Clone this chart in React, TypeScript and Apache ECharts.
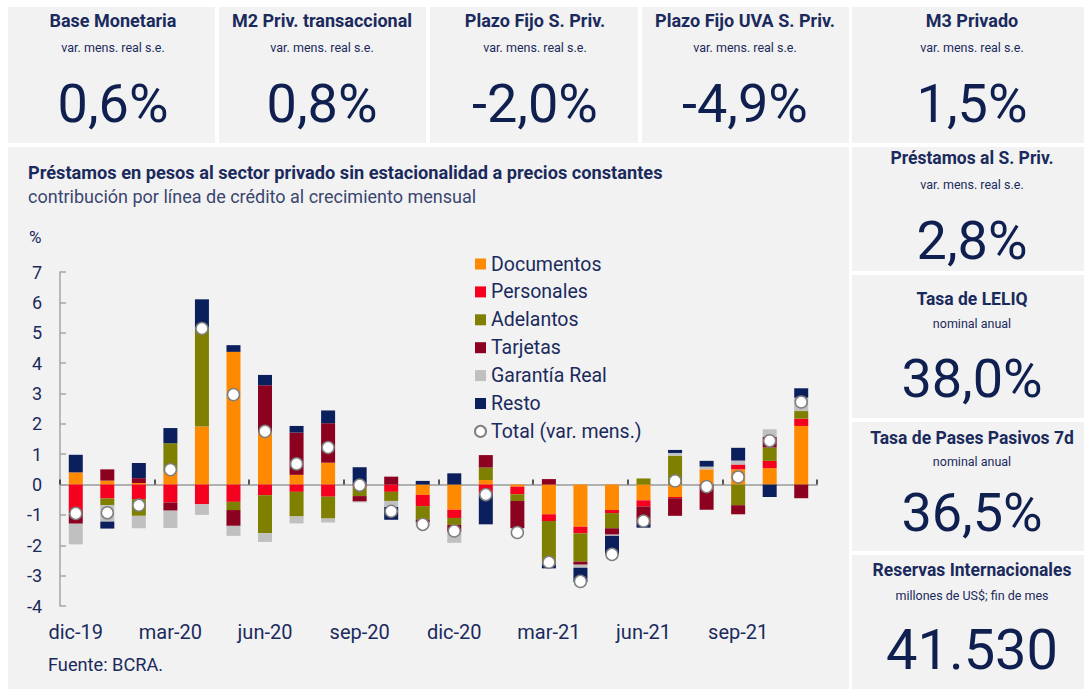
import React, { useEffect, useRef } from "react";
import * as echarts from "echarts";

const months = [
  "dic-19", "ene-20", "feb-20", "mar-20", "abr-20", "may-20", "jun-20", "jul-20",
  "ago-20", "sep-20", "oct-20", "nov-20", "dic-20", "ene-21", "feb-21", "mar-21",
  "abr-21", "may-21", "jun-21", "jul-21", "ago-21", "sep-21", "oct-21", "nov-21",
];

const documentos = [0.40, 0.13, 0.05, 0.42, 1.91, 4.37, 1.73, 0.32, 0.72, 0, 0, -0.34, -0.83, 0.15, -0.07, -0.98, -1.39, -0.84, -0.52, -0.41, 0.50, 0.50, 0.54, 1.93];
const personales = [-0.87, -0.46, -0.48, -0.59, -0.65, -0.57, -0.35, -0.24, -0.40, -0.08, -0.24, -0.37, -0.27, -0.29, -0.25, -0.22, -0.22, -0.10, -0.20, -0.04, 0, 0.16, 0.24, 0.24];
const adelantos = [0, -0.22, -0.55, 0.94, 3.26, -0.27, -1.25, -0.81, -0.72, -0.30, -0.30, -0.44, -0.23, 0.41, -0.22, -1.43, -0.93, -0.50, 0.20, 0.95, 0, -0.68, 0.44, 0.25];
const tarjetas = [-0.42, 0.37, 0.16, -0.27, 0, -0.52, 1.54, 1.39, 1.30, -0.18, 0.26, -0.10, -0.24, 0.41, -0.90, 0.18, -0.10, -0.21, -0.57, -0.58, -0.83, -0.30, 0.35, -0.45];
const garantiaReal = [-0.68, -0.54, -0.41, -0.57, -0.35, -0.33, -0.29, -0.23, -0.13, -0.03, -0.20, -0.12, -0.35, 0, 0, 0, -0.10, -0.04, 0, 0.09, 0.09, 0.13, 0.25, 0.44];
const resto = [0.58, -0.23, 0.50, 0.50, 0.93, 0.22, 0.34, 0.22, 0.42, 0.57, -0.42, 0.12, 0.37, -1.02, 0, -0.13, -0.47, -0.61, -0.13, 0.10, 0.19, 0.42, -0.41, 0.31];
const total = [-0.95, -0.93, -0.68, 0.49, 5.14, 2.96, 1.75, 0.68, 1.22, -0.02, -0.88, -1.31, -1.53, -0.33, -1.58, -2.56, -3.19, -2.30, -1.20, 0.12, -0.07, 0.25, 1.44, 2.72];

const seriesNames = ["Documentos", "Personales", "Adelantos", "Tarjetas", "Garantía Real", "Resto"];
const seriesColors = ["#ff8a00", "#f5001e", "#7f7f00", "#8c0020", "#c0c0c0", "#0b1f5c"];
const totalName = "Total (var. mens.)";

const topCards = [
  { title: "Base Monetaria", sub: "var. mens. real s.e.", value: "0,6%" },
  { title: "M2 Priv. transaccional", sub: "var. mens. real s.e.", value: "0,8%" },
  { title: "Plazo Fijo S. Priv.", sub: "var. mens. real s.e.", value: "-2,0%" },
  { title: "Plazo Fijo UVA S. Priv.", sub: "var. mens. real s.e.", value: "-4,9%" },
  { title: "M3 Privado", sub: "var. mens. real s.e.", value: "1,5%" },
];
const sideCards = [
  { title: "Préstamos al S. Priv.", sub: "var. mens. real s.e.", value: "2,8%" },
  { title: "Tasa de LELIQ", sub: "nominal anual", value: "38,0%" },
  { title: "Tasa de Pases Pasivos 7d", sub: "nominal anual", value: "36,5%" },
  { title: "Reservas Internacionales", sub: "millones de US$; fin de mes", value: "41.530" },
];

const NAVY = "#1b2a5c";
const DARK = "#0f1f4f";
const PANEL = "#f2f2f2";
const FONT = "Roboto";

function txt(text: string, x: number, y: number, size: number, weight: string, color: string, align = "center") {
  return {
    type: "text",
    x,
    y,
    z: 20,
    style: {
      text,
      fill: color,
      fontSize: size,
      fontWeight: weight,
      fontFamily: FONT,
      align,
      verticalAlign: "middle",
      textAlign: align,
      textVerticalAlign: "middle",
    },
  };
}

function rect(x: number, y: number, w: number, h: number) {
  return { type: "rect", shape: { x, y, width: w, height: h }, style: { fill: PANEL }, z: -10, silent: true };
}

export default function App() {
  const ref = useRef<HTMLDivElement>(null);
  useEffect(() => {
    if (!ref.current) return;
    const chart = echarts.init(ref.current, null, { renderer: "svg" });

    const topX = [[8, 207], [219, 207], [430, 208], [642, 207], [852, 232]];
    const topCx = [113, 322, 535, 745, 972];
    const sideY = [[147, 124], [275, 143], [422, 129], [555, 134]];
    const sideTy = [[158, 184, 240], [299, 323, 378], [438, 461, 512], [570, 595, 650]];

    const graphics: any[] = [];
    topX.forEach(([x, w]) => graphics.push(rect(x, 7, w, 136)));
    graphics.push(rect(8, 147, 841, 542));
    sideY.forEach(([y, h]) => graphics.push(rect(852, y, 232, h)));
    topCards.forEach((c, i) => {
      graphics.push(txt(c.title, topCx[i], 20, 18, "bold", NAVY));
      graphics.push(txt(c.sub, topCx[i], 47, 12.5, "normal", NAVY));
      graphics.push(txt(c.value, topCx[i], 103, 54, "normal", DARK));
    });
    sideCards.forEach((c, i) => {
      const [ty, sy, vy] = sideTy[i];
      graphics.push(txt(c.title, 972, ty, 17.5, "bold", NAVY));
      graphics.push(txt(c.sub, 972, sy, 12.5, "normal", NAVY));
      graphics.push(txt(c.value, 972, vy, i === 3 ? 56 : 54, "normal", DARK));
    });
    graphics.push(txt("Préstamos en pesos al sector privado sin estacionalidad a precios constantes", 28, 172, 18.2, "bold", NAVY, "left"));
    graphics.push(txt("contribución por línea de crédito al crecimiento mensual", 28, 196, 18, "normal", "#3a4670", "left"));
    graphics.push(txt("%", 29, 237, 17, "normal", NAVY, "left"));
    graphics.push(txt("Fuente: BCRA.", 48, 664, 18.2, "normal", NAVY, "left"));

    const dataSets = [documentos, personales, adelantos, tarjetas, garantiaReal, resto];
    const barSeries = seriesNames.map((name, i) => ({
      name,
      type: "bar",
      stack: "contrib",
      barWidth: 14,
      xAxisIndex: 0,
      data: dataSets[i],
      itemStyle: { color: seriesColors[i] },
      z: 3,
    }));

    chart.setOption({
      animation: false,
      backgroundColor: "#ffffff",
      textStyle: { fontFamily: FONT },
      graphic: { elements: graphics },
      grid: { left: 60, right: 267, top: 272, bottom: 83, containLabel: false },
      legend: {
        orient: "vertical",
        left: 469,
        top: 249,
        itemWidth: 11,
        itemHeight: 11,
        itemGap: 7.9,
        data: [...seriesNames.map((n) => ({ name: n, icon: "rect" })), { name: totalName, icon: "circle" }],
        textStyle: { fontSize: 19.5, color: NAVY, fontFamily: FONT, lineHeight: 19 },
      },
      xAxis: [
        {
          type: "category",
          data: months,
          position: "bottom",
          axisLine: { onZero: true, lineStyle: { color: "#9a9a9a", width: 1.5 } },
          axisTick: { show: true, inside: true, length: 5, interval: 2, lineStyle: { color: "#222", width: 1.5 } },
          axisLabel: { show: false },
          splitLine: { show: false },
        },
        {
          type: "category",
          data: months,
          position: "bottom",
          axisLine: { show: false, onZero: false },
          axisTick: { show: false },
          axisLabel: { interval: 2, fontSize: 20, color: NAVY, margin: 16, fontFamily: FONT },
          splitLine: { show: false },
        },
      ],
      yAxis: {
        type: "value",
        min: -4,
        max: 7,
        interval: 1,
        axisLine: { show: true, lineStyle: { color: "#a6a6a6", width: 1.5 } },
        axisTick: { show: true, inside: true, length: 6, lineStyle: { color: "#a6a6a6", width: 1.5 } },
        axisLabel: { fontSize: 18, color: NAVY, margin: 18, fontFamily: FONT },
        splitLine: { show: false },
      },
      series: [
        ...barSeries,
        {
          name: totalName,
          type: "scatter",
          xAxisIndex: 0,
          data: total,
          symbol: "circle",
          symbolSize: 12,
          itemStyle: { color: "#ffffff", borderColor: "#7f7f7f", borderWidth: 1.5, opacity: 1 },
          z: 10,
        },
      ],
    });
    return () => chart.dispose();
  }, []);

  return (
    <div
      ref={ref}
      style={{ position: "absolute", left: 0, top: 0, width: 1084, height: 689 }}
    />
  );
}
